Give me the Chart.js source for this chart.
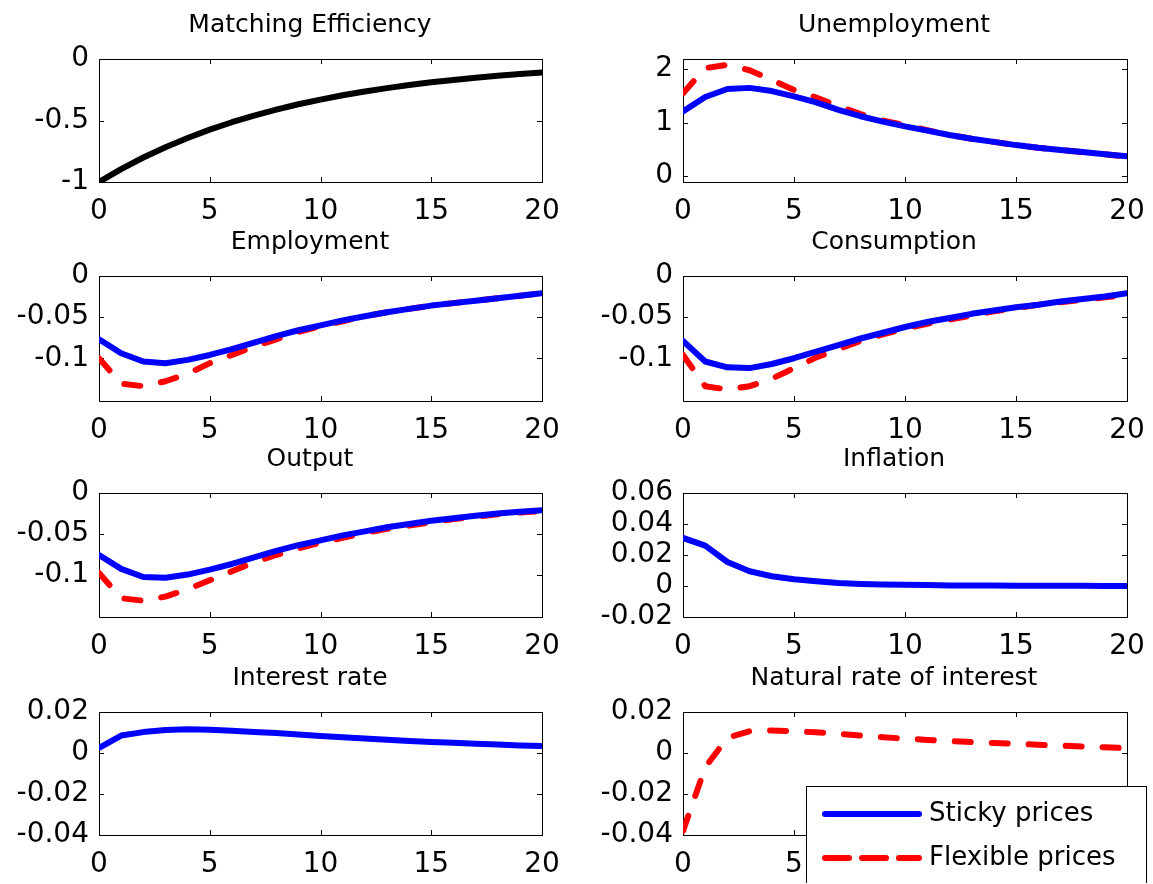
<!DOCTYPE html>
<html><head><meta charset="utf-8">
<script src="https://cdn.jsdelivr.net/npm/chart.js@4.4.1/dist/chart.umd.min.js"></script>
<style>
html,body{margin:0;padding:0;background:#fff;overflow:hidden;width:1153px;height:884px}
#wrap{position:relative;width:1153px;height:884px;overflow:hidden;background:#fff}
canvas{position:absolute}
</style></head><body>
<div id="wrap"></div>
<script>
// ---------------- data ----------------
const periods = [0,1,2,3,4,5,6,7,8,9,10,11,12,13,14,15,16,17,18,19,20];
const xTicks = [0,5,10,15,20];
const seriesLabels = ['Sticky prices','Flexible prices'];
const panelTitles = ['Matching Efficiency','Unemployment','Employment','Consumption','Output','Inflation','Interest rate','Natural rate of interest'];

const matchingEfficiency = [-1,-0.895,-0.801,-0.717,-0.642,-0.574,-0.514,-0.46,-0.412,-0.368,-0.33,-0.295,-0.264,-0.237,-0.212,-0.189,-0.17,-0.152,-0.136,-0.122,-0.109];

const unemploymentSticky = [1.21,1.48,1.63,1.65,1.59,1.49,1.38,1.24,1.12,1.02,0.93,0.85,0.77,0.70,0.64,0.58,0.53,0.49,0.45,0.41,0.37];
const unemploymentFlex   = [1.55,2.02,2.08,1.98,1.80,1.61,1.47,1.31,1.16,1.04,0.95,0.86,0.77,0.70,0.64,0.58,0.53,0.49,0.45,0.41,0.36];

const employmentSticky = [-0.077,-0.094,-0.104,-0.106,-0.102,-0.096,-0.089,-0.081,-0.073,-0.066,-0.060,-0.054,-0.049,-0.044,-0.040,-0.036,-0.033,-0.030,-0.027,-0.024,-0.021];
const employmentFlex   = [-0.100,-0.131,-0.134,-0.128,-0.119,-0.106,-0.096,-0.086,-0.077,-0.068,-0.061,-0.055,-0.049,-0.044,-0.040,-0.036,-0.033,-0.030,-0.027,-0.024,-0.021];

const consumptionSticky = [-0.079,-0.104,-0.111,-0.112,-0.107,-0.100,-0.092,-0.084,-0.076,-0.069,-0.062,-0.056,-0.051,-0.046,-0.042,-0.038,-0.035,-0.031,-0.028,-0.025,-0.021];
const consumptionFlex   = [-0.096,-0.134,-0.138,-0.134,-0.125,-0.112,-0.099,-0.089,-0.079,-0.071,-0.064,-0.058,-0.053,-0.048,-0.043,-0.039,-0.035,-0.032,-0.029,-0.026,-0.023];

const outputSticky = [-0.076,-0.093,-0.103,-0.104,-0.100,-0.094,-0.087,-0.079,-0.071,-0.064,-0.058,-0.052,-0.047,-0.042,-0.038,-0.034,-0.031,-0.028,-0.025,-0.023,-0.021];
const outputFlex   = [-0.098,-0.129,-0.132,-0.127,-0.118,-0.107,-0.096,-0.085,-0.076,-0.068,-0.061,-0.055,-0.049,-0.044,-0.040,-0.036,-0.032,-0.029,-0.026,-0.024,-0.022];

const inflationSticky = [0.031,0.026,0.0155,0.0095,0.0063,0.0043,0.003,0.0019,0.0013,0.001,0.0008,0.0006,0.0004,0.0003,0.0003,0.0002,0.0001,0.0001,0.0001,0,0];

const interestSticky = [0.0025,0.0085,0.0102,0.0112,0.0116,0.0114,0.0108,0.0103,0.0097,0.009,0.0083,0.0077,0.0071,0.0065,0.0059,0.0054,0.005,0.0045,0.0041,0.0037,0.0034];

const naturalRateFlex = [-0.038,-0.007,0.0075,0.0106,0.011,0.0106,0.0101,0.0093,0.0085,0.0077,0.007,0.0064,0.0058,0.0053,0.0049,0.0045,0.004,0.0036,0.0032,0.0028,0.0024];

const yRanges = [[-1,0],[-0.11,2.19],[-0.152,0],[-0.152,0],[-0.152,0],[-0.02,0.06],[-0.04,0.02],[-0.04,0.02]];
const yTickSets = [[-1,-0.5,0],[0,1,2],[-0.1,-0.05,0],[-0.1,-0.05,0],[-0.1,-0.05,0],[-0.02,0,0.02,0.04,0.06],[-0.04,-0.02,0,0.02],[-0.04,-0.02,0,0.02]];
const panelSeries = [
  [['shock', matchingEfficiency]],
  [['sticky', unemploymentSticky], ['flex', unemploymentFlex]],
  [['sticky', employmentSticky], ['flex', employmentFlex]],
  [['sticky', consumptionSticky], ['flex', consumptionFlex]],
  [['sticky', outputSticky], ['flex', outputFlex]],
  [['sticky', inflationSticky]],
  [['sticky', interestSticky]],
  [['flex', naturalRateFlex]]
];

// ---------------- styles / layout ----------------
const FONT = "'DejaVu Sans', 'Liberation Sans', sans-serif";
const TICK_SIZE = 28, TITLE_SIZE = 25, LEGEND_SIZE = 26;
Chart.defaults.font.family = FONT;
Chart.defaults.font.size = TICK_SIZE;
Chart.defaults.color = '#000';

const styles = {
  shock:  {label: 'Shock', borderColor: '#000000', borderDash: []},
  sticky: {label: seriesLabels[0], borderColor: '#0000ff', borderDash: []},
  flex:   {label: seriesLabels[1], borderColor: '#ff0000', borderDash: [16, 21]}
};

const cols = [
  {x: 0, w: 620, yAxisW: 99, padR: 78},
  {x: 583, w: 622, yAxisW: 100, padR: 78}
];
const TITLE_H = 59;
const rows = [
  {y: 0, plotH: 123, xAxisH: 46},
  {y: 217, plotH: 125, xAxisH: 46},
  {y: 434, plotH: 124, xAxisH: 46},
  {y: 653, plotH: 123, xAxisH: 48}
];

const frame = {
  id: 'frame',
  beforeDatasetsDraw(chart) {
    const {ctx, chartArea: a, scales} = chart;
    ctx.save();
    ctx.strokeStyle = '#000';
    ctx.lineWidth = 1;
    ctx.strokeRect(Math.round(a.left) + 0.5, Math.round(a.top) + 0.5, Math.round(a.right - a.left), Math.round(a.bottom - a.top));
    const L = 5;
    ctx.beginPath();
    scales.x.ticks.forEach(t => {
      const px = Math.round(scales.x.getPixelForValue(t.value)) + 0.5;
      ctx.moveTo(px, a.bottom); ctx.lineTo(px, a.bottom - L);
      ctx.moveTo(px, a.top); ctx.lineTo(px, a.top + L);
    });
    scales.y.ticks.forEach(t => {
      const py = Math.round(scales.y.getPixelForValue(t.value)) + 0.5;
      ctx.moveTo(a.left, py); ctx.lineTo(a.left + L, py);
      ctx.moveTo(a.right, py); ctx.lineTo(a.right - L, py);
    });
    ctx.stroke();
    ctx.restore();
  }
};

function legendPlugin(canvasX, canvasY) {
  return {
    id: 'boxLegend',
    afterDraw(chart) {
      const ctx = chart.ctx;
      const bx = 806 - canvasX, by = 786 - canvasY, bw = 340, bh = 140;
      ctx.save();
      ctx.fillStyle = '#fff';
      ctx.fillRect(bx, by, bw, bh);
      ctx.strokeStyle = '#000';
      ctx.lineWidth = 1;
      ctx.strokeRect(bx + 0.5, by + 0.5, bw, bh);
      const items = [
        {style: styles.sticky, y: 814, dash: []},
        {style: styles.flex, y: 858, dash: [24, 13]}
      ];
      items.forEach(it => {
        const yy = it.y - canvasY;
        ctx.beginPath();
        ctx.strokeStyle = it.style.borderColor;
        ctx.lineWidth = 6;
        ctx.lineCap = 'round';
        ctx.setLineDash(it.dash);
        ctx.moveTo(825 - canvasX, yy);
        ctx.lineTo(919 - canvasX, yy);
        ctx.stroke();
        ctx.setLineDash([]);
        ctx.fillStyle = '#000';
        ctx.font = LEGEND_SIZE + 'px ' + FONT;
        ctx.textAlign = 'left';
        ctx.textBaseline = 'middle';
        ctx.fillText(it.style.label, 929 - canvasX, yy);
      });
      ctx.restore();
    }
  };
}

const wrap = document.getElementById('wrap');
for (let p = 0; p < 8; p++) {
  const col = cols[p % 2], row = rows[Math.floor(p / 2)];
  const cv = document.createElement('canvas');
  const h = TITLE_H + row.plotH + row.xAxisH;
  cv.width = col.w; cv.height = h;
  cv.style.left = col.x + 'px'; cv.style.top = row.y + 'px';
  cv.style.width = col.w + 'px'; cv.style.height = h + 'px';
  wrap.appendChild(cv);

  const datasets = panelSeries[p].map(([key, arr]) => ({
    label: styles[key].label,
    data: periods.map((t, i) => ({x: t, y: arr[i]})),
    borderColor: styles[key].borderColor,
    borderDash: styles[key].borderDash,
    borderWidth: 6,
    borderCapStyle: 'round',
    borderJoinStyle: 'round',
    pointRadius: 0,
    pointHoverRadius: 0,
    fill: false,
    tension: 0
  }));
  const yTicks = yTickSets[p];
  const plugins = [frame];
  if (p === 7) plugins.push(legendPlugin(col.x, row.y));

  new Chart(cv, {
    type: 'line',
    data: {datasets},
    plugins,
    options: {
      responsive: false,
      animation: false,
      devicePixelRatio: 1,
      layout: {padding: 0},
      plugins: {
        legend: {display: false},
        tooltip: {enabled: false},
        title: {
          display: true,
          text: panelTitles[p],
          color: '#000',
          font: {size: TITLE_SIZE, weight: 'normal', lineHeight: 1.2, family: FONT},
          padding: {top: 10, bottom: TITLE_H - 40}
        }
      },
      scales: {
        x: {
          type: 'linear', min: 0, max: 20,
          afterBuildTicks: s => { s.ticks = xTicks.map(v => ({value: v})); },
          afterFit: s => { s.height = row.xAxisH; },
          grid: {display: false, drawTicks: false},
          border: {display: false},
          ticks: {padding: 13, autoSkip: false, maxRotation: 0, color: '#000', font: {size: TICK_SIZE, family: FONT}, callback: v => String(v)}
        },
        y: {
          type: 'linear', min: yRanges[p][0], max: yRanges[p][1],
          afterBuildTicks: s => { s.ticks = yTicks.map(v => ({value: v})); },
          afterFit: s => { s.width = col.yAxisW; },
          grid: {display: false, drawTicks: false},
          border: {display: false},
          ticks: {padding: 10, autoSkip: false, color: '#000', font: {size: TICK_SIZE, family: FONT}, callback: v => String(v)}
        },
        yRight: {
          type: 'linear', position: 'right', display: true,
          min: yRanges[p][0], max: yRanges[p][1],
          afterFit: s => { s.width = col.padR; },
          grid: {display: false, drawTicks: false},
          border: {display: false},
          ticks: {display: false}
        }
      }
    }
  });
}
</script>
</body></html>
